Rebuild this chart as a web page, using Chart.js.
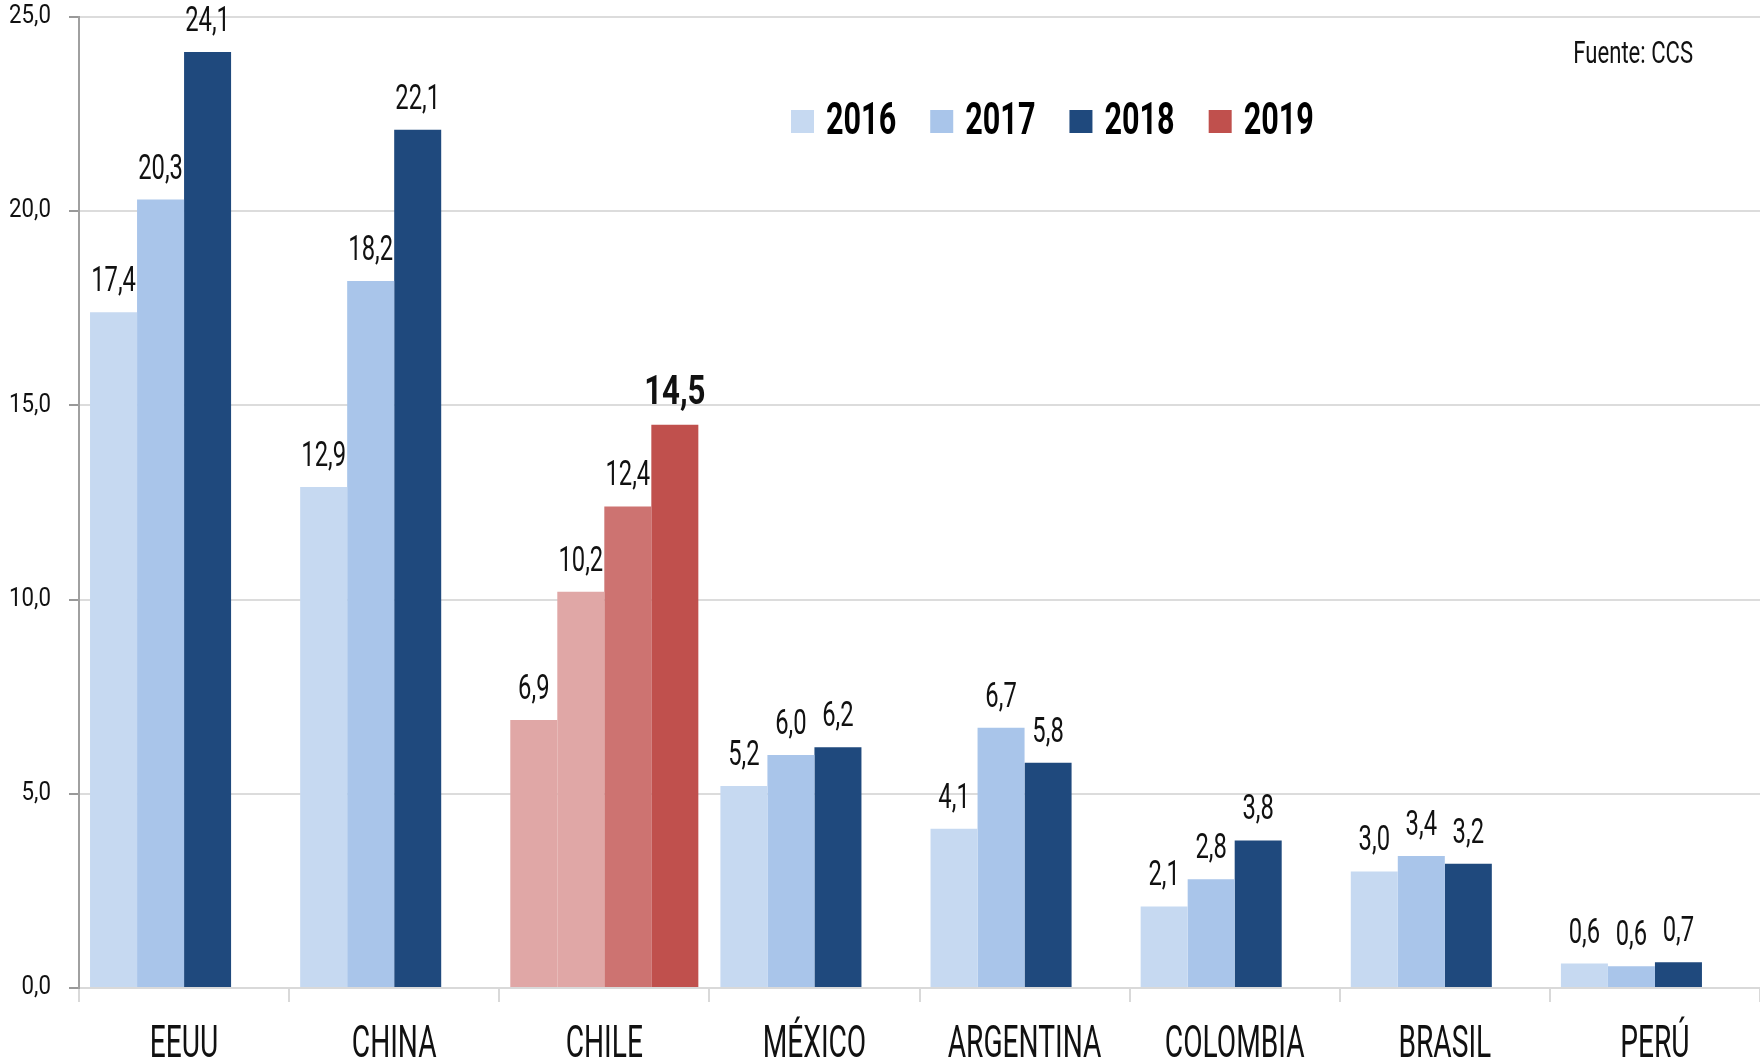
<!DOCTYPE html>
<html>
<head>
<meta charset="utf-8">
<script src="https://cdn.jsdelivr.net/npm/chart.js@4.4.1/dist/chart.umd.min.js"></script>
<style>
  body { margin: 0; background: #fff; }
  canvas { display: block; }
</style>
</head>
<body>
<canvas id="myChart" width="1760" height="1063"></canvas>
<script>
'use strict';
var categories = ['EEUU', 'CHINA', 'CHILE', 'MÉXICO', 'ARGENTINA', 'COLOMBIA', 'BRASIL', 'PERÚ'];
var years = ['2016', '2017', '2018', '2019'];
var values2016 = [17.4, 12.9, 6.9, 5.2, 4.1, 2.1, 3.0, 0.63];
var values2017 = [20.3, 18.2, 10.2, 6.0, 6.7, 2.8, 3.4, 0.56];
var values2018 = [24.1, 22.1, 12.4, 6.2, 5.8, 3.8, 3.2, 0.66];
var values2019 = [null, null, 14.5, null, null, null, null, null];
var yTicks = [0, 5, 10, 15, 20, 25];

var seriesColors = ['#C6D9F1', '#A9C5EA', '#1F497D', '#C0504D'];
var chileColors = ['#E0A7A6', '#E0A7A6', '#CD7371', '#C0504D'];
var chileIndex = categories.indexOf('CHILE');

var fontName = 'Roboto';
// the original uses a very narrow typeface, so text is squeezed per font size
var squeezeBySize = { 25: 0.89, 35: 0.68, 40: 0.78, 44: 0.64, 45: 0.68, 32: 0.69 };

function fmt(v) {
  return v.toFixed(1).replace('.', ',');
}

function barColors(d) {
  var out = [];
  for (var i = 0; i < categories.length; i++) {
    out.push(i === chileIndex ? chileColors[d] : seriesColors[d]);
  }
  return out;
}

var narrowText = {
  id: 'narrowText',
  beforeInit: function(chart) {
    var ctx = chart.ctx;
    var fill = ctx.fillText.bind(ctx);
    var measure = ctx.measureText.bind(ctx);
    function squeeze() {
      var m = /(\d+(\.\d+)?)px/.exec(ctx.font);
      var size = m ? Math.round(parseFloat(m[1])) : 0;
      return squeezeBySize[size] || 1;
    }
    ctx.fillText = function(text, x, y, maxWidth) {
      var s = squeeze();
      ctx.save();
      ctx.translate(x, y);
      ctx.scale(s, 1);
      fill(text, 0, 0);
      ctx.restore();
    };
    ctx.measureText = function(text) {
      var m = measure(text);
      return { width: m.width * squeeze(), actualBoundingBoxAscent: m.actualBoundingBoxAscent, actualBoundingBoxDescent: m.actualBoundingBoxDescent };
    };
  }
};

var barLabels = {
  id: 'barLabels',
  afterDatasetsDraw: function(chart) {
    var ctx = chart.ctx;
    ctx.save();
    ctx.fillStyle = '#111';
    ctx.textAlign = 'center';
    ctx.textBaseline = 'alphabetic';
    chart.data.datasets.forEach(function(ds, d) {
      var meta = chart.getDatasetMeta(d);
      meta.data.forEach(function(bar, i) {
        var v = ds.data[i];
        if (v === null) return;
        ctx.font = d === 3 ? 'bold 40px ' + fontName : '35px ' + fontName;
        ctx.fillText(fmt(v), bar.x, bar.y - 21);
      });
    });
    ctx.restore();
  }
};

var legendAndSource = {
  id: 'legendAndSource',
  afterDraw: function(chart) {
    var ctx = chart.ctx;
    ctx.save();
    ctx.font = 'bold 45px ' + fontName;
    ctx.textBaseline = 'alphabetic';
    ctx.textAlign = 'left';
    var x = 791;
    for (var i = 0; i < years.length; i++) {
      ctx.fillStyle = seriesColors[i];
      ctx.fillRect(x, 110, 23, 23);
      ctx.fillStyle = '#000';
      ctx.fillText(years[i], x + 35, 134);
      x += 35 + ctx.measureText(years[i]).width + 34;
    }
    ctx.font = '32px ' + fontName;
    ctx.textAlign = 'right';
    ctx.fillStyle = '#111';
    ctx.fillText('Fuente: CCS', 1693, 63);
    ctx.restore();
  }
};

var ctx = document.getElementById('myChart').getContext('2d');
var myChart = new Chart(ctx, {
  type: 'bar',
  data: {
    labels: categories,
    datasets: [
      { label: years[0], data: values2016, backgroundColor: barColors(0) },
      { label: years[1], data: values2017, backgroundColor: barColors(1) },
      { label: years[2], data: values2018, backgroundColor: barColors(2) },
      { label: years[3], data: values2019, backgroundColor: barColors(3) }
    ]
  },
  options: {
    responsive: false,
    devicePixelRatio: 1,
    animation: false,
    categoryPercentage: 0.895,
    barPercentage: 1.0,
    layout: { padding: { top: 17, right: 0, bottom: 0, left: 0 } },
    plugins: {
      legend: { display: false },
      tooltip: { enabled: false }
    },
    scales: {
      x: {
        afterFit: function(scale) { scale.height = 75; },
        grid: {
          drawOnChartArea: false,
          drawTicks: true,
          tickLength: 14,
          tickColor: '#D9D9D9',
          lineWidth: 2
        },
        border: { color: '#D9D9D9', width: 2 },
        ticks: {
          autoSkip: false,
          maxRotation: 0,
          minRotation: 0,
          padding: 18,
          color: '#111',
          font: { family: fontName, size: 44 }
        }
      },
      y: {
        min: 0,
        max: 25,
        afterFit: function(scale) {
          scale.width = 79;
          scale.paddingTop = 0; // top label may poke above the plot
        },
        afterBuildTicks: function(scale) {
          scale.ticks = yTicks.map(function(v) { return { value: v }; });
        },
        grid: {
          color: '#DCDCDC',
          lineWidth: 2,
          tickLength: 10,
          tickColor: '#999'
        },
        border: { color: '#A0A0A0', width: 2 },
        ticks: {
          padding: 18,
          color: '#111',
          font: { family: fontName, size: 25 },
          callback: function(v) { return fmt(v); }
        }
      }
    }
  },
  plugins: [narrowText, barLabels, legendAndSource]
});
</script>
</body>
</html>
